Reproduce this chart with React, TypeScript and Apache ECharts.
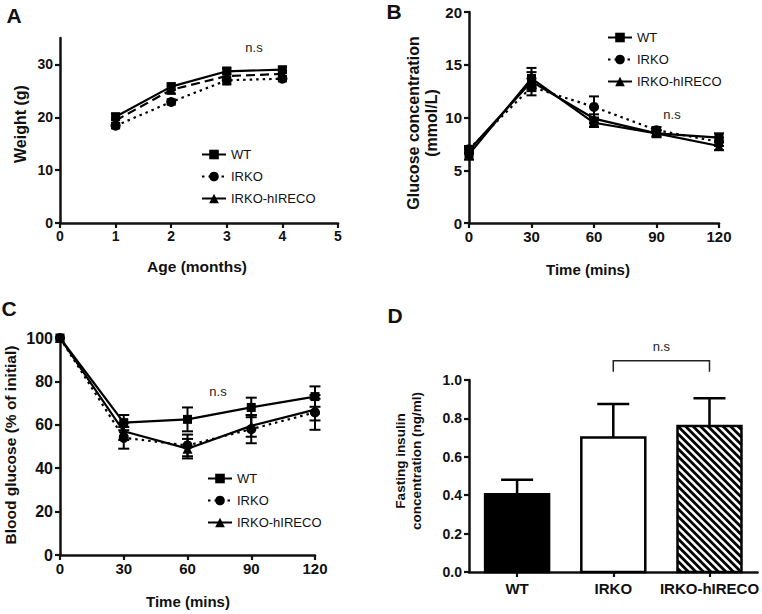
import React, { useEffect, useRef } from 'react';
import * as echarts from 'echarts';

const FONT = '"Liberation Sans", Arial, Helvetica, sans-serif';
const INK = '#111';

const groups = ['WT', 'IRKO', 'IRKO-hIRECO'];

// Panel A: body weight
const ageMonths = [1, 2, 3, 4];
const weightWT = [20.1, 25.8, 28.7, 29.0];
const weightIRKO = [18.4, 22.9, 27.0, 27.3];
const weightRECO = [19.4, 25.2, 27.8, 28.2];
const weightErrWT = [0.6, 0.6, 0.5, 0.5];
const weightErrIRKO = [0.5, 0.5, 0.6, 0.5];
const weightErrRECO = [0.5, 0.7, 1.6, 0.6];
const weightTicks = [0, 10, 20, 30];

// Panel B: glucose tolerance
const gttTime = [0, 30, 60, 90, 120];
const gttWT = [6.5, 13.7, 9.5, 8.5, 8.1];
const gttIRKO = [7.0, 12.9, 11.0, 8.8, 7.7];
const gttRECO = [6.9, 13.4, 9.9, 8.5, 7.3];
const gttErrWT = [0.5, 1.0, 0.4, 0.3, 0.4];
const gttErrIRKO = [0.3, 0.8, 1.0, 0.3, 0.4];
const gttErrRECO = [0.3, 0.9, 0.4, 0.3, 0.4];

// Panel C: insulin tolerance
const ittTime = [0, 30, 60, 90, 120];
const ittWT = [100, 61, 62.5, 68, 73];
const ittIRKO = [100, 54, 50.5, 58, 65.7];
const ittRECO = [100, 57, 49, 59.5, 67];
const ittErrWT = [0, 3.5, 5.5, 4.5, 4.7];
const ittErrIRKO = [0, 5, 5, 6.5, 8];
const ittErrRECO = [0, 4, 4.5, 5, 5];

// Panel D: fasting insulin
const insulin = [0.405, 0.7, 0.76];
const insulinErr = [0.075, 0.175, 0.145];
const bracketFrom = 1;
const bracketTo = 2;
const bracketLevel = 1.1;

const barFills = ['solid', 'open', 'hatched'];

const zip = (xs: number[], ys: number[]) => xs.map((x, i) => [x, ys[i]]);

const axisLine = { show: true, onZero: false, lineStyle: { color: INK, width: 2.5 } };
const axisTick = { show: true, inside: false, length: 5, lineStyle: { color: INK, width: 2.2 } };
const lbl = (size: number, margin: number) => ({
  color: INK,
  fontWeight: 'bold' as const,
  fontSize: size,
  fontFamily: FONT,
  margin,
});

function lineSeries(name: string, idx: number, xs: number[], ys: number[], symbol: string, size: number, type: any) {
  return {
    type: 'line',
    name,
    xAxisIndex: idx,
    yAxisIndex: idx,
    data: zip(xs, ys),
    symbol,
    symbolSize: size,
    showSymbol: true,
    lineStyle: { color: '#000', width: 2.2, type },
    itemStyle: { color: '#000' },
    z: 3,
    silent: true,
  };
}

function errSeries(idx: number, xs: number[], ys: number[], errs: number[], cap: number) {
  return {
    type: 'custom',
    xAxisIndex: idx,
    yAxisIndex: idx,
    silent: true,
    clip: false,
    z: 2,
    data: xs.map((x, i) => [x, ys[i] - errs[i], ys[i] + errs[i]]),
    renderItem: (_p: any, api: any) => {
      const x = api.value(0);
      const lo = api.coord([x, api.value(1)]);
      const hi = api.coord([x, api.value(2)]);
      if (Math.abs(hi[1] - lo[1]) < 1) return { type: 'group', children: [] };
      const st = { stroke: '#000', lineWidth: 2 };
      return {
        type: 'group',
        children: [
          { type: 'line', shape: { x1: lo[0], y1: lo[1], x2: hi[0], y2: hi[1] }, style: st },
          { type: 'line', shape: { x1: lo[0] - cap / 2, y1: lo[1], x2: lo[0] + cap / 2, y2: lo[1] }, style: st },
          { type: 'line', shape: { x1: hi[0] - cap / 2, y1: hi[1], x2: hi[0] + cap / 2, y2: hi[1] }, style: st },
        ],
      };
    },
  };
}

function hatchLines(x0: number, y0: number, x1: number, y1: number, step: number) {
  const segs: any[] = [];
  for (let c = y0 - x1 + step / 2; c <= y1 - x0; c += step) {
    const xa = Math.max(x0, y0 - c);
    const xb = Math.min(x1, y1 - c);
    if (xb - xa > 0.5) {
      segs.push({
        type: 'line',
        shape: { x1: xa, y1: xa + c, x2: xb, y2: xb + c },
        style: { stroke: '#000', lineWidth: 2.8 },
      });
    }
  }
  return segs;
}

function txt(text: string, x: number, y: number, font: string, rot = 0, extra: any = {}) {
  return {
    type: 'text',
    x,
    y,
    rotation: rot,
    silent: true,
    style: { text, font, fill: INK, align: 'center', verticalAlign: 'middle', ...extra },
  };
}

export default function App() {
  const ref = useRef<HTMLDivElement>(null);
  useEffect(() => {
    if (!ref.current) return;
    const chart = echarts.init(ref.current, null, { renderer: 'svg' });
    const legendBase = {
      orient: 'vertical',
      itemWidth: 24,
      itemHeight: 12,
      itemGap: 9,
      padding: 0,
      selectedMode: false,
      data: groups,
      textStyle: { fontSize: 13, fontFamily: FONT, color: INK },
    };
    const option: any = {
      animation: false,
      textStyle: { fontFamily: FONT },
      grid: [
        { left: 60, top: 38, width: 278, height: 185 }, // A
        { left: 469, top: 12, width: 250, height: 211 }, // B
        { left: 60, top: 338, width: 255, height: 217 }, // C
        { left: 469, top: 380, width: 289, height: 192 }, // D
      ],
      xAxis: [
        { type: 'value', gridIndex: 0, min: 0, max: 5, interval: 1, axisLine, axisTick, axisLabel: lbl(14, 6), splitLine: { show: false } },
        { type: 'value', gridIndex: 1, min: 0, max: 120, interval: 30, axisLine, axisTick, axisLabel: lbl(15, 6), splitLine: { show: false } },
        { type: 'value', gridIndex: 2, min: 0, max: 120, interval: 30, axisLine, axisTick, axisLabel: lbl(15, 6), splitLine: { show: false } },
        {
          type: 'category', gridIndex: 3, data: groups, boundaryGap: true, axisLine,
          axisTick: { ...axisTick, alignWithLabel: true, interval: 0 },
          axisLabel: { ...lbl(15, 9), interval: 0, hideOverlap: false },
          splitLine: { show: false },
        },
      ],
      yAxis: [
        {
          type: 'value', gridIndex: 0, min: 0, max: 35, axisLine,
          axisTick: { ...axisTick, customValues: weightTicks },
          axisLabel: { ...lbl(14, 7), customValues: weightTicks },
          splitLine: { show: false },
        },
        { type: 'value', gridIndex: 1, min: 0, max: 20, interval: 5, axisLine, axisTick, axisLabel: lbl(15, 7), splitLine: { show: false } },
        { type: 'value', gridIndex: 2, min: 0, max: 100, interval: 20, axisLine, axisTick, axisLabel: lbl(16, 7), splitLine: { show: false } },
        {
          type: 'value', gridIndex: 3, min: 0, max: 1, interval: 0.2, axisLine, axisTick,
          axisLabel: { ...lbl(14, 7), formatter: (v: number) => v.toFixed(1) }, splitLine: { show: false },
        },
      ],
      legend: [
        { ...legendBase, left: 201, top: 148 },
        { ...legendBase, left: 607, top: 31 },
        { ...legendBase, left: 207, top: 472 },
      ],
      series: [
        // B (first so legend icons use solid lines)
        lineSeries('WT', 1, gttTime, gttWT, 'rect', 9, 'solid'),
        lineSeries('IRKO', 1, gttTime, gttIRKO, 'circle', 10, [2.5, 4]),
        lineSeries('IRKO-hIRECO', 1, gttTime, gttRECO, 'triangle', 10, 'solid'),
        errSeries(1, gttTime, gttWT, gttErrWT, 10),
        errSeries(1, gttTime, gttIRKO, gttErrIRKO, 10),
        errSeries(1, gttTime, gttRECO, gttErrRECO, 10),
        // C
        lineSeries('WT', 2, ittTime, ittWT, 'rect', 9, 'solid'),
        lineSeries('IRKO', 2, ittTime, ittIRKO, 'circle', 10, [2.5, 4]),
        lineSeries('IRKO-hIRECO', 2, ittTime, ittRECO, 'triangle', 10, 'solid'),
        errSeries(2, ittTime, ittWT, ittErrWT, 11),
        errSeries(2, ittTime, ittIRKO, ittErrIRKO, 11),
        errSeries(2, ittTime, ittRECO, ittErrRECO, 11),
        // A
        lineSeries('WT', 0, ageMonths, weightWT, 'rect', 9, 'solid'),
        lineSeries('IRKO', 0, ageMonths, weightIRKO, 'circle', 10, [2.5, 4]),
        lineSeries('IRKO-hIRECO', 0, ageMonths, weightRECO, 'triangle', 10, [9, 5]),
        errSeries(0, ageMonths, weightWT, weightErrWT, 9),
        errSeries(0, ageMonths, weightIRKO, weightErrIRKO, 9),
        errSeries(0, ageMonths, weightRECO, weightErrRECO, 9),
        // D bars
        {
          type: 'custom',
          xAxisIndex: 3,
          yAxisIndex: 3,
          silent: true,
          clip: false,
          z: 2,
          data: insulin.map((v, i) => [i, v, insulinErr[i]]),
          renderItem: (_p: any, api: any) => {
            const i = api.value(0);
            const v = api.value(1);
            const e = api.value(2);
            const base = api.coord([i, 0]);
            const top = api.coord([i, v]);
            const errTop = api.coord([i, v + e]);
            const w = api.size([1, 0])[0] * 0.665;
            const x0 = base[0] - w / 2;
            const x1 = base[0] + w / 2;
            const y0 = top[1];
            const y1 = base[1];
            const fill = barFills[i];
            const children: any[] = [];
            children.push({
              type: 'rect',
              shape: { x: x0, y: y0, width: w, height: y1 - y0 },
              style: { fill: fill === 'solid' ? '#000' : '#fff' },
            });
            if (fill === 'hatched') children.push(...hatchLines(x0, y0, x1, y1, 7.5));
            children.push({
              type: 'rect',
              shape: { x: x0, y: y0, width: w, height: y1 - y0 },
              style: { fill: 'none', stroke: '#000', lineWidth: 2.5 },
            });
            const st = { stroke: '#000', lineWidth: 2.5 };
            children.push({ type: 'line', shape: { x1: base[0], y1: y0, x2: base[0], y2: errTop[1] }, style: st });
            children.push({ type: 'line', shape: { x1: base[0] - 16, y1: errTop[1], x2: base[0] + 16, y2: errTop[1] }, style: st });
            return { type: 'group', children };
          },
        },
        // D comparison bracket
        {
          type: 'custom',
          xAxisIndex: 3,
          yAxisIndex: 3,
          silent: true,
          clip: false,
          z: 3,
          data: [[bracketFrom, bracketTo, bracketLevel]],
          renderItem: (_p: any, api: any) => {
            const p1 = api.coord([api.value(0), api.value(2)]);
            const p2 = api.coord([api.value(1), api.value(2)]);
            return {
              type: 'group',
              children: [
                {
                  type: 'polyline',
                  shape: { points: [[p1[0], p1[1] + 11], [p1[0], p1[1]], [p2[0], p2[1]], [p2[0], p2[1] + 11]] },
                  style: { stroke: '#222', lineWidth: 1.5, fill: 'none' },
                },
                {
                  type: 'text',
                  x: (p1[0] + p2[0]) / 2,
                  y: p1[1] - 14,
                  style: { text: 'n.s', font: `13px ${FONT}`, fill: '#222', align: 'center', verticalAlign: 'middle' },
                },
              ],
            };
          },
        },
      ],
      graphic: [
        txt('A', 14, 15, `bold 21px ${FONT}`),
        txt('B', 394, 11, `bold 21px ${FONT}`),
        txt('C', 9, 308, `bold 21px ${FONT}`),
        txt('D', 395, 315, `bold 21px ${FONT}`),
        txt('n.s', 254, 47, `13px ${FONT}`, 0, { fill: '#222' }),
        txt('n.s', 672, 114, `13px ${FONT}`, 0, { fill: '#222' }),
        txt('n.s', 218, 391, `13px ${FONT}`, 0, { fill: '#222' }),
        txt('Weight (g)', 20, 124, `bold 16px ${FONT}`, Math.PI / 2),
        txt('Age (months)', 197, 266, `bold 15.5px ${FONT}`),
        txt('Glucose concentration\n(mmol/L)', 422, 123, `bold 16px ${FONT}`, Math.PI / 2, { lineHeight: 18 }),
        txt('Time (mins)', 588, 269, `bold 15px ${FONT}`),
        txt('Blood glucose (% of initial)', 10, 445, `bold 15.5px ${FONT}`, Math.PI / 2),
        txt('Time (mins)', 188, 601, `bold 15px ${FONT}`),
        txt('Fasting insulin\nconcentration (ng/ml)', 408, 461, `bold 13.5px ${FONT}`, Math.PI / 2, { lineHeight: 16 }),
      ],
    };
    chart.setOption(option);
    return () => chart.dispose();
  }, []);
  return (
    <div
      ref={ref}
      style={{ position: 'fixed', left: 0, top: 0, width: 762, height: 614, background: '#fff' }}
    />
  );
}
